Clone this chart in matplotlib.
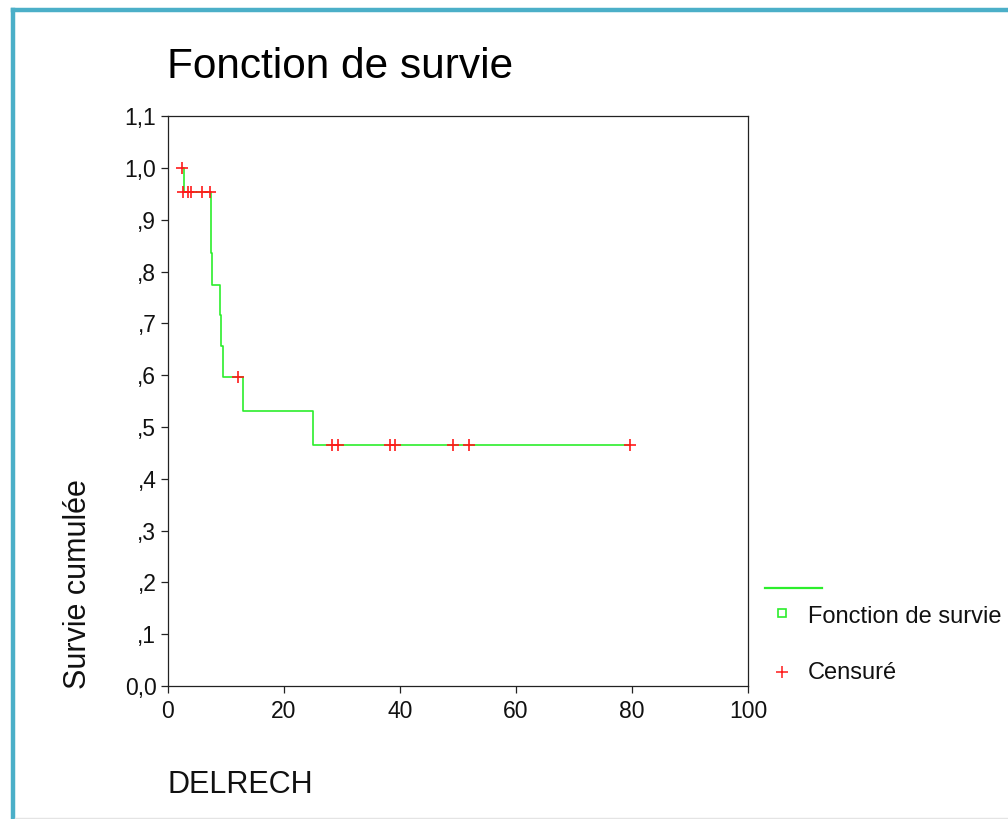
import matplotlib
matplotlib.use("Agg")
import matplotlib.pyplot as plt
from matplotlib.lines import Line2D

plt.rcParams['font.family'] = ['Liberation Sans', 'DejaVu Sans']

# Kaplan-Meier step curve (time, survival after step)
step_times = [2.45, 2.84, 7.44, 7.67, 9.04, 9.22, 9.51, 13.06, 25.01, 79.7]
step_surv = [1.0, 0.954, 0.836, 0.775, 0.716, 0.656, 0.597, 0.531, 0.465, 0.465]

# censored observations
cens_times = [2.45, 2.6, 3.6, 4.0, 5.9, 7.3, 12.2, 28.3, 29.4, 38.3, 39.2, 49.2, 52.0, 79.7]
cens_surv = [1.0, 0.954, 0.954, 0.954, 0.954, 0.954, 0.597, 0.465, 0.465, 0.465, 0.465, 0.465, 0.465, 0.465]

xticks = [0, 20, 40, 60, 80, 100]
yticks = [0.0, 0.1, 0.2, 0.3, 0.4, 0.5, 0.6, 0.7, 0.8, 0.9, 1.0, 1.1]
ytick_labels = ['0,0', ',1', ',2', ',3', ',4', ',5', ',6', ',7', ',8', ',9', '1,0', '1,1']

title = "Fonction de survie"
xlabel = "DELRECH"
ylabel = "Survie cumulée"
legend_labels = ["Fonction de survie", "Censuré"]

W, H = 1008, 819
fig = plt.figure(figsize=(W / 100, H / 100), dpi=100)
fig.patch.set_facecolor('white')

ax = fig.add_axes([167.5 / W, 1 - 686 / H, (748 - 167.5) / W, (686 - 116.3) / H])
green = '#2cee2c'
red = '#ff1a1a'
ax.step(step_times, step_surv, where='post', color=green, lw=1.2, zorder=2)
ax.plot(cens_times, cens_surv, linestyle='none', marker='+', color=red,
        markersize=8, markeredgewidth=1.2, zorder=3)

ax.set_xlim(0, 100)
ax.set_ylim(0, 1.1)
ax.set_xticks(xticks)
ax.set_xticklabels([str(t) for t in xticks])
ax.set_yticks(yticks)
ax.set_yticklabels(ytick_labels)
for s in ax.spines.values():
    s.set_color('#222222')
    s.set_linewidth(0.9)
ax.tick_params(axis='both', direction='out', length=5, width=0.9, color='#222222',
               labelsize=16.5, labelcolor='#111111', pad=3)
ax.tick_params(axis='x', pad=5)

# Title and axis labels
fig.text(167 / W, 1 - 78 / H, title, fontsize=30.5, ha='left', va='baseline', color='#000000')
fig.text(168 / W, 1 - 793 / H, xlabel, fontsize=22, ha='left', va='baseline', color='#111111')
fig.text(78 / W, 1 - 689 / H, ylabel, fontsize=22, rotation=90, ha='center', va='bottom',
         color='#111111')

# Legend (SPSS style)
fig.add_artist(Line2D([765 / W, 822 / W], [1 - 588 / H, 1 - 588 / H], color=green, lw=1.6))
fig.add_artist(Line2D([782 / W], [1 - 613 / H], marker='s', markersize=5.5, markerfacecolor='none',
                      markeredgecolor=green, markeredgewidth=1.2, linestyle='none'))
fig.text(808 / W, 1 - 617 / H, legend_labels[0], fontsize=17, ha='left', va='center', color='#111111')
fig.add_artist(Line2D([782 / W], [1 - 672 / H], marker='+', markersize=8, markeredgewidth=1.1,
                      color=red, linestyle='none'))
fig.text(808 / W, 1 - 673 / H, legend_labels[1], fontsize=17, ha='left', va='center', color='#111111')

# Frame border (teal, left and top)
teal = '#4bafc8'
fig.add_artist(Line2D([13 / W, 13 / W], [0, 1 - 9.5 / H], color=teal, lw=3.2, solid_capstyle='projecting'))
fig.add_artist(Line2D([13 / W, 1.0], [1 - 9.5 / H, 1 - 9.5 / H], color=teal, lw=3.2, solid_capstyle='projecting'))
fig.add_artist(Line2D([15 / W, 1.0], [1 - 817.5 / H, 1 - 817.5 / H], color='#e4e4e4', lw=1.0))

fig.savefig('out.png', dpi=100)
